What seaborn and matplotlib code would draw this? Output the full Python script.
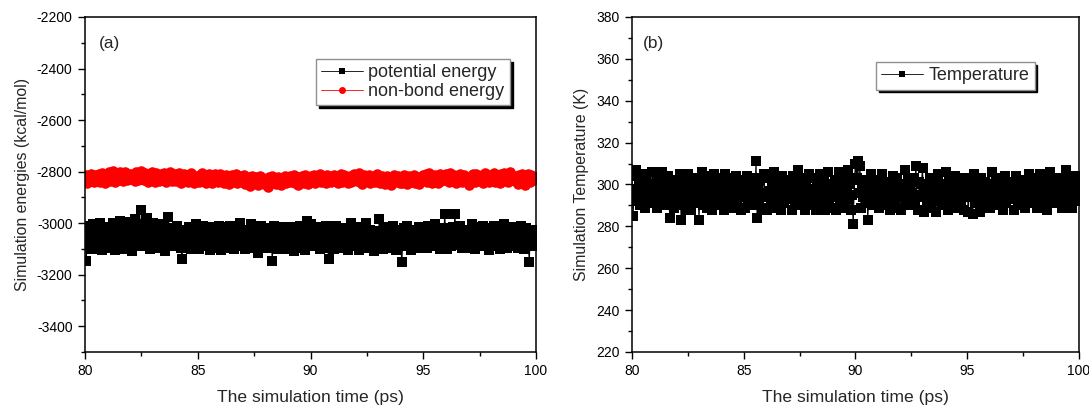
import pandas as pd
import matplotlib
matplotlib.use("Agg")
import matplotlib.pyplot as plt
from matplotlib.ticker import MultipleLocator
import seaborn as sns

# Simulation time axis (ps), sampled every 0.05 ps
time_ps = [round(80 + 0.05 * i, 2) for i in range(401)]

# Potential energy (kcal/mol)
potential_energy = [
    -3020, -3145, -3060, -3010, -3085, -3040, -3100, -3005, -3070, -3050, -3090, -3030, -3075, -3000, -3060, -3105, -3035, -3080, -3015, -3065,
    -3095, -3015, -3065, -3030, -3080, -3000, -3055, -3105, -3025, -3070, -3045, -2990, -3085, -3040, -3100, -3020, -3060, -3010, -3075, -3050,
    -2995, -3050, -3110, -3020, -2985, -3060, -3035, -3090, -3005, -3070, -2950, -3060, -3015, -3090, -3035, -2980, -3075, -3040, -3100, -3025,
    -3000, -3075, -3040, -3010, -3095, -3050, -3020, -3085, -3045, -3005, -3065, -3110, -3030, -3070, -2975, -3055, -3020, -3090, -3040, -3065,
    -3085, -3045, -3010, -3070, -3035, -3095, -3140, -3060, -3025, -3090, -3040, -3075, -3015, -3060, -3100, -3030, -3070, -3045, -3005, -3080,
    -3055, -3100, -3030, -3075, -3045, -3010, -3090, -3060, -3020, -3080, -3040, -3105, -3065, -3015, -3085, -3050, -3030, -3095, -3060, -3010,
    -3040, -3105, -3065, -3015, -3085, -3050, -3030, -3095, -3060, -3010, -3075, -3040, -3100, -3025, -3065, -3090, -3045, -3000, -3080, -3055,
    -3075, -3040, -3100, -3025, -3065, -3090, -3045, -3005, -3080, -3055, -3020, -3095, -3060, -3115, -3035, -3075, -3010, -3085, -3050, -3030,
    -3020, -3095, -3060, -3040, -3085, -3030, -3145, -3065, -3010, -3075, -3050, -3100, -3035, -3080, -3015, -3060, -3090, -3045, -3070, -3025,
    -3100, -3060, -3015, -3080, -3045, -3110, -3025, -3070, -3040, -3095, -3055, -3010, -3085, -3035, -3065, -3105, -3030, -2990, -3075, -3050,
    -3005, -3065, -3035, -3090, -3050, -3015, -3080, -3045, -3100, -3060, -3025, -3070, -3040, -3095, -3010, -3075, -3140, -3055, -3030, -3085,
    -3025, -3100, -3055, -3010, -3085, -3040, -3075, -3030, -3095, -3060, -3020, -3080, -3045, -3105, -3035, -3070, -3000, -3090, -3050, -3015,
    -3015, -3070, -3045, -3105, -3035, -3080, -3020, -3090, -3055, -3000, -3065, -3040, -3095, -3025, -3075, -3050, -3110, -3030, -3085, -3060,
    -3065, -2985, -3075, -3030, -3100, -3050, -3015, -3085, -3040, -3070, -3020, -3095, -3055, -3010, -3080, -3045, -3105, -3035, -3065, -3025,
    -3090, -3150, -3045, -3020, -3090, -3060, -3010, -3080, -3035, -3105, -3050, -3025, -3075, -3040, -3095, -3060, -3015, -3085, -3045, -3070,
    -3025, -3070, -3040, -3095, -3010, -3060, -3085, -3030, -3075, -3050, -3005, -3090, -3045, -3065, -3020, -3100, -3055, -3035, -3080, -2965,
    -3050, -3100, -3020, -3065, -3040, -3090, -3015, -3075, -2965, -3045, -3085, -3030, -3070, -3010, -3095, -3055, -3025, -3080, -3040, -3065,
    -3095, -3025, -3060, -3005, -3080, -3040, -3100, -3050, -3015, -3075, -3035, -3090, -3055, -3010, -3085, -3045, -3070, -3020, -3105, -3060,
    -3035, -3090, -3055, -3010, -3085, -3045, -3070, -3020, -3100, -3060, -3030, -3080, -3005, -3065, -3095, -3040, -3075, -3015, -3090, -3050,
    -3030, -3080, -3015, -3065, -3095, -3040, -3075, -3010, -3060, -3100, -3045, -3020, -3085, -3055, -3150, -3035, -3070, -3025, -3090, -3060,
    -3045,
]

# Non-bond energy (kcal/mol)
nonbond_energy = [
    -2830, -2815, -2845, -2820, -2838, -2808, -2832, -2818, -2842, -2812, -2826, -2836, -2810, -2840, -2822, -2806, -2834, -2816, -2844, -2824,
    -2825, -2800, -2835, -2810, -2828, -2798, -2822, -2840, -2805, -2818, -2832, -2802, -2826, -2812, -2838, -2800, -2820, -2834, -2808, -2828,
    -2830, -2808, -2826, -2812, -2838, -2800, -2820, -2834, -2806, -2824, -2796, -2818, -2832, -2804, -2828, -2814, -2840, -2810, -2826, -2802,
    -2824, -2812, -2840, -2804, -2828, -2816, -2836, -2808, -2822, -2832, -2806, -2826, -2842, -2814, -2830, -2800, -2820, -2838, -2810, -2828,
    -2810, -2838, -2818, -2805, -2830, -2845, -2815, -2826, -2808, -2834, -2820, -2842, -2812, -2828, -2804, -2836, -2822, -2846, -2816, -2830,
    -2820, -2840, -2812, -2828, -2805, -2836, -2822, -2846, -2814, -2830, -2808, -2838, -2818, -2844, -2826, -2810, -2834, -2820, -2842, -2816,
    -2808, -2834, -2820, -2844, -2826, -2812, -2838, -2818, -2848, -2828, -2814, -2840, -2822, -2836, -2810, -2846, -2826, -2832, -2816, -2842,
    -2836, -2814, -2850, -2826, -2842, -2820, -2856, -2832, -2816, -2846, -2828, -2838, -2822, -2852, -2830, -2818, -2844, -2834, -2824, -2848,
    -2828, -2838, -2858, -2822, -2844, -2830, -2818, -2840, -2826, -2848, -2834, -2820, -2842, -2830, -2852, -2824, -2838, -2816, -2846, -2832,
    -2820, -2836, -2816, -2842, -2828, -2812, -2846, -2824, -2834, -2852, -2822, -2840, -2818, -2830, -2844, -2814, -2836, -2826, -2848, -2820,
    -2818, -2840, -2826, -2812, -2844, -2830, -2820, -2836, -2810, -2842, -2828, -2816, -2838, -2822, -2846, -2814, -2832, -2824, -2840, -2818,
    -2826, -2814, -2838, -2822, -2846, -2818, -2832, -2808, -2840, -2826, -2812, -2836, -2820, -2844, -2828, -2816, -2842, -2824, -2834, -2810,
    -2816, -2836, -2822, -2806, -2842, -2828, -2850, -2814, -2832, -2820, -2838, -2826, -2812, -2846, -2824, -2834, -2818, -2840, -2830, -2808,
    -2838, -2826, -2844, -2818, -2834, -2824, -2848, -2830, -2816, -2840, -2828, -2852, -2820, -2836, -2812, -2842, -2826, -2834, -2818, -2846,
    -2822, -2846, -2828, -2812, -2838, -2826, -2850, -2818, -2832, -2842, -2824, -2836, -2814, -2844, -2830, -2820, -2848, -2828, -2838, -2816,
    -2814, -2830, -2808, -2840, -2822, -2806, -2836, -2818, -2844, -2826, -2812, -2834, -2820, -2846, -2828, -2810, -2838, -2824, -2832, -2816,
    -2810, -2832, -2816, -2840, -2806, -2824, -2838, -2812, -2828, -2846, -2818, -2834, -2822, -2808, -2842, -2826, -2814, -2836, -2820, -2830,
    -2820, -2852, -2816, -2834, -2810, -2826, -2842, -2808, -2830, -2818, -2838, -2824, -2812, -2844, -2828, -2806, -2836, -2822, -2840, -2814,
    -2836, -2812, -2828, -2804, -2840, -2820, -2832, -2814, -2844, -2810, -2826, -2838, -2806, -2830, -2818, -2842, -2822, -2800, -2834, -2816,
    -2826, -2838, -2816, -2830, -2848, -2812, -2834, -2822, -2808, -2830, -2852, -2818, -2836, -2810, -2828, -2842, -2814, -2832, -2824, -2820,
    -2820,
]

# Temperature (K)
temperature = [
    304, 285, 298, 292, 307, 295, 301, 290, 299, 305, 293, 300, 289, 303, 296, 291, 298, 294, 306, 300,
    293, 300, 289, 303, 296, 291, 298, 306, 294, 301, 290, 297, 304, 292, 284, 299, 295, 302, 289, 296,
    301, 290, 297, 305, 283, 299, 292, 303, 288, 296, 305, 292, 299, 288, 303, 295, 300, 291, 297, 302,
    283, 300, 293, 306, 290, 298, 302, 289, 296, 304, 292, 299, 288, 305, 295, 301, 290, 297, 303, 293,
    292, 299, 288, 305, 295, 301, 290, 297, 303, 293, 300, 289, 296, 304, 291, 298, 294, 302, 288, 297,
    300, 289, 296, 304, 291, 298, 302, 290, 295, 303, 293, 311, 284, 298, 292, 302, 289, 296, 305, 294,
    295, 288, 303, 297, 290, 300, 294, 306, 289, 299, 302, 292, 298, 288, 304, 296, 291, 301, 294, 299,
    302, 293, 298, 288, 304, 296, 291, 301, 294, 307, 290, 298, 303, 292, 296, 288, 301, 295, 305, 291,
    290, 298, 303, 292, 296, 288, 301, 295, 305, 291, 299, 294, 302, 288, 297, 306, 292, 300, 289, 296,
    299, 294, 302, 288, 297, 306, 292, 300, 289, 296, 303, 291, 298, 307, 293, 300, 288, 295, 281, 302,
    310, 303, 311, 296, 309, 289, 300, 294, 298, 291, 302, 283, 297, 293, 305, 290, 299, 296, 292, 301,
    302, 289, 297, 293, 305, 290, 299, 296, 292, 301, 295, 288, 300, 294, 304, 291, 298, 303, 289, 297,
    295, 288, 300, 294, 307, 291, 298, 302, 293, 299, 290, 296, 303, 292, 309, 295, 288, 301, 294, 300,
    308, 287, 296, 300, 291, 299, 294, 303, 289, 297, 292, 302, 287, 298, 305, 293, 300, 290, 296, 299,
    292, 306, 295, 288, 301, 297, 290, 299, 293, 304, 289, 300, 294, 302, 291, 298, 295, 288, 303, 296,
    296, 287, 302, 294, 299, 286, 305, 291, 297, 300, 293, 287, 303, 290, 298, 295, 301, 292, 299, 294,
    289, 298, 306, 293, 300, 290, 296, 303, 292, 299, 294, 301, 288, 297, 304, 291, 298, 293, 300, 295,
    294, 301, 288, 297, 304, 291, 298, 293, 300, 290, 296, 302, 289, 299, 293, 305, 291, 297, 300, 294,
    296, 303, 289, 299, 292, 305, 294, 298, 290, 301, 295, 288, 300, 293, 306, 291, 298, 294, 302, 296,
    295, 300, 291, 303, 297, 289, 299, 294, 307, 296, 290, 302, 293, 298, 289, 301, 295, 304, 292, 299,
    300,
]

energy_labels = ["potential energy", "non-bond energy"]
temp_label = "Temperature"
panel_tags = ["(a)", "(b)"]

sns.set_style("white")
plt.rcParams["font.family"] = ["Liberation Sans", "DejaVu Sans"]
plt.rcParams["axes.unicode_minus"] = False

n = len(time_ps)
energy_df = pd.DataFrame({
    "time": time_ps * 2,
    "energy": potential_energy + nonbond_energy,
    "kind": [energy_labels[0]] * n + [energy_labels[1]] * n,
})
temp_df = pd.DataFrame({"time": time_ps, "temp": temperature, "kind": [temp_label] * n})

fig = plt.figure(figsize=(10.89, 4.05), dpi=100)
ax1 = fig.add_axes([0.0781, 0.1309, 0.4141, 0.8272])
ax2 = fig.add_axes([0.5803, 0.1309, 0.4105, 0.8272])

sns.lineplot(data=energy_df, x="time", y="energy", hue="kind", style="kind",
             palette={energy_labels[0]: "black", energy_labels[1]: "red"},
             markers={energy_labels[0]: "s", energy_labels[1]: "o"},
             dashes=False, estimator=None, sort=False, ax=ax1,
             linewidth=0.8, markersize=6.6, markeredgewidth=0)
sns.lineplot(data=temp_df, x="time", y="temp", hue="kind", style="kind",
             palette={temp_label: "black"}, markers={temp_label: "s"},
             dashes=False, estimator=None, sort=False, ax=ax2,
             linewidth=0.8, markersize=6.6, markeredgewidth=0)

# round markers look smaller than squares at equal size; enlarge the red series
for line in ax1.lines:
    if line.get_marker() == "o":
        line.set_markersize(7.6)


def style_axes(ax, ylim, major, minor, ylabel):
    ax.set_xlim(80, 100)
    ax.set_ylim(*ylim)
    ax.xaxis.set_major_locator(MultipleLocator(5))
    ax.xaxis.set_minor_locator(MultipleLocator(2.5))
    ax.yaxis.set_major_locator(MultipleLocator(major))
    ax.yaxis.set_minor_locator(MultipleLocator(minor))
    ax.tick_params(which="both", direction="out", bottom=True, left=True,
                   top=False, right=False, labelsize=10, colors="black",
                   width=1.0, pad=4)
    ax.tick_params(which="major", length=5)
    ax.tick_params(which="minor", length=3)
    for s in ax.spines.values():
        s.set_color("black")
        s.set_linewidth(1.1)
    ax.set_xlabel("The simulation time (ps)", fontsize=12.6, labelpad=8)
    ax.set_ylabel(ylabel, fontsize=11.4, labelpad=5)


style_axes(ax1, (-3500, -2200), 200, 100, "Simulation energies (kcal/mol)")
style_axes(ax2, (220, 380), 20, 10, "Simulation Temperature (K)")

legend_kw = dict(loc="upper left", fontsize=13, frameon=True, fancybox=False,
                 shadow={"color": "black", "alpha": 1.0}, edgecolor="#909090",
                 framealpha=1, borderpad=0.3, labelspacing=0.1,
                 handlelength=2.3, handletextpad=0.3, borderaxespad=0)


def add_legend(ax, anchor):
    handles, labels = ax.get_legend_handles_labels()
    leg = ax.legend(handles, labels, bbox_to_anchor=anchor, **legend_kw)
    for line in leg.get_lines():
        line.set_markersize(5)
        line.set_linewidth(0.6)


add_legend(ax1, (0.512, 0.875))
add_legend(ax2, (0.546, 0.866))

for ax, tag, xpos in zip((ax1, ax2), panel_tags, (0.031, 0.024)):
    ax.text(xpos, 0.922, tag, transform=ax.transAxes, fontsize=12.4,
            ha="left", va="center")

fig.savefig("out.png", dpi=100)
